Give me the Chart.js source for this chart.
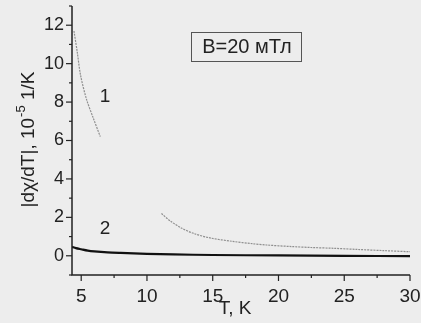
<!DOCTYPE html>
<html>
<head>
<meta charset="utf-8">
<script src="https://cdn.jsdelivr.net/npm/chart.js@4.4.1/dist/chart.umd.min.js"></script>
<style>
  html, body { margin: 0; padding: 0; background: #ededed; }
  #wrap { width: 421px; height: 323px; }
</style>
</head>
<body>
<div id="wrap"><canvas id="chart" width="421" height="323"></canvas></div>
<script>
// curve 1 (faint, gap where the scan faded out)
const temp1 = [4.45, 4.7, 4.95, 5.4, 5.9, 6.45, 8.5, 11.1, 11.8, 12.6, 13.6, 14.8, 16.5, 18, 19.1, 21, 22.5, 24.2, 26, 28, 30];
const dchi1 = [11.7, 10.6, 9.4, 8.15, 7.2, 6.2, null, 2.2, 1.8, 1.45, 1.15, 0.93, 0.75, 0.63, 0.56, 0.48, 0.43, 0.39, 0.33, 0.27, 0.21];
// curve 2
const temp2 = [4.3, 4.6, 5, 5.5, 6, 7, 8, 10, 12, 15, 20, 25, 30];
const dchi2 = [0.47, 0.4, 0.34, 0.27, 0.23, 0.18, 0.15, 0.1, 0.07, 0.04, 0.02, 0.0, -0.02];

const xTicks = [5, 10, 15, 20, 25, 30];
const yTicks = [0, 2, 4, 6, 8, 10, 12];

const FONT = '"Liberation Sans", Arial, sans-serif';

const toPoints = (xs, ys) => xs.map((x, i) => ({ x: x, y: ys[i] }));

// paper background, axes with minor ticks, titles and labels
const decor = {
  id: 'decor',
  beforeDraw(chart) {
    const ctx = chart.ctx;
    ctx.save();
    ctx.fillStyle = '#ededed';
    ctx.fillRect(0, 0, chart.width, chart.height);
    ctx.restore();
  },
  afterDraw(chart) {
    const ctx = chart.ctx;
    const xs = chart.scales.x, ys = chart.scales.y;
    const a = chart.chartArea;
    ctx.save();
    ctx.strokeStyle = '#222';
    ctx.lineWidth = 1.5;
    ctx.beginPath();
    ctx.moveTo(a.left, a.top);
    ctx.lineTo(a.left, a.bottom);
    ctx.lineTo(a.right, a.bottom);
    ctx.stroke();

    ctx.lineWidth = 1.2;
    for (let v = 5; v <= 30; v += 2.5) {
      const px = xs.getPixelForValue(v);
      const len = v % 5 === 0 ? 6 : 3;
      ctx.beginPath();
      ctx.moveTo(px, a.bottom);
      ctx.lineTo(px, a.bottom + len);
      ctx.stroke();
    }
    for (let v = -1; v <= 13; v += 1) {
      const py = ys.getPixelForValue(v);
      const len = v % 2 === 0 ? 6 : 3;
      ctx.beginPath();
      ctx.moveTo(a.left, py);
      ctx.lineTo(a.left - len, py);
      ctx.stroke();
    }

    ctx.fillStyle = '#222';
    ctx.textAlign = 'center';
    ctx.textBaseline = 'middle';
    ctx.font = '19px ' + FONT;
    ctx.fillText('T, K', 235, 309);
    ctx.fillText('1', 105, 97);
    ctx.fillText('2', 105, 229);

    // rotated y title with superscript
    ctx.translate(29, 140);
    ctx.rotate(-Math.PI / 2);
    ctx.textAlign = 'left';
    ctx.font = '19px ' + FONT;
    const p1 = '|d\u03c7/dT|, 10';
    const p2 = '-5';
    const p3 = ' 1/K';
    const w1 = ctx.measureText(p1).width;
    ctx.font = '13px ' + FONT;
    const w2 = ctx.measureText(p2).width;
    ctx.font = '19px ' + FONT;
    const w3 = ctx.measureText(p3).width;
    let x0 = -(w1 + w2 + w3) / 2;
    ctx.fillText(p1, x0, 0);
    ctx.font = '13px ' + FONT;
    ctx.fillText(p2, x0 + w1 + 1, -8);
    ctx.font = '19px ' + FONT;
    ctx.fillText(p3, x0 + w1 + w2 + 1, 0);
    ctx.restore();

    // field label box
    ctx.save();
    ctx.strokeStyle = '#555';
    ctx.lineWidth = 1;
    ctx.strokeRect(191.5, 32.5, 110, 29);
    ctx.fillStyle = '#222';
    ctx.font = '20px ' + FONT;
    ctx.textAlign = 'center';
    ctx.textBaseline = 'middle';
    ctx.fillText('B=20 мТл', 247, 47);
    ctx.restore();
  }
};

new Chart(document.getElementById('chart'), {
  type: 'line',
  data: {
    datasets: [
      {
        label: '1',
        data: toPoints(temp1, dchi1),
        borderColor: '#8f8f8f',
        borderWidth: 1.2,
        borderDash: [2, 1],
        pointRadius: 0,
        tension: 0.3,
        spanGaps: false,
      },
      {
        label: '2',
        data: toPoints(temp2, dchi2),
        borderColor: '#111',
        borderWidth: 2.2,
        pointRadius: 0,
        tension: 0.3,
      },
    ],
  },
  options: {
    responsive: false,
    animation: false,
    layout: { padding: { top: 6, right: 11, left: 0, bottom: 0 } },
    plugins: { legend: { display: false }, tooltip: { enabled: false } },
    scales: {
      x: {
        type: 'linear',
        min: 4.3,
        max: 30,
        afterBuildTicks: (s) => { s.ticks = xTicks.map(v => ({ value: v })); },
        afterFit: (s) => { s.height = 48; s.paddingLeft = 0; s.paddingRight = 0; },
        grid: { display: false, drawTicks: false },
        border: { display: false },
        ticks: { color: '#222', font: { family: FONT, size: 19 }, padding: 10, maxRotation: 0 },
      },
      y: {
        min: -1,
        max: 13,
        afterBuildTicks: (s) => { s.ticks = yTicks.map(v => ({ value: v })); },
        afterFit: (s) => { s.width = 72; s.paddingTop = 0; s.paddingBottom = 0; },
        grid: { display: false, drawTicks: false },
        border: { display: false },
        ticks: { color: '#222', font: { family: FONT, size: 18 }, padding: 8 },
      },
    },
  },
  plugins: [decor],
});
</script>
</body>
</html>
